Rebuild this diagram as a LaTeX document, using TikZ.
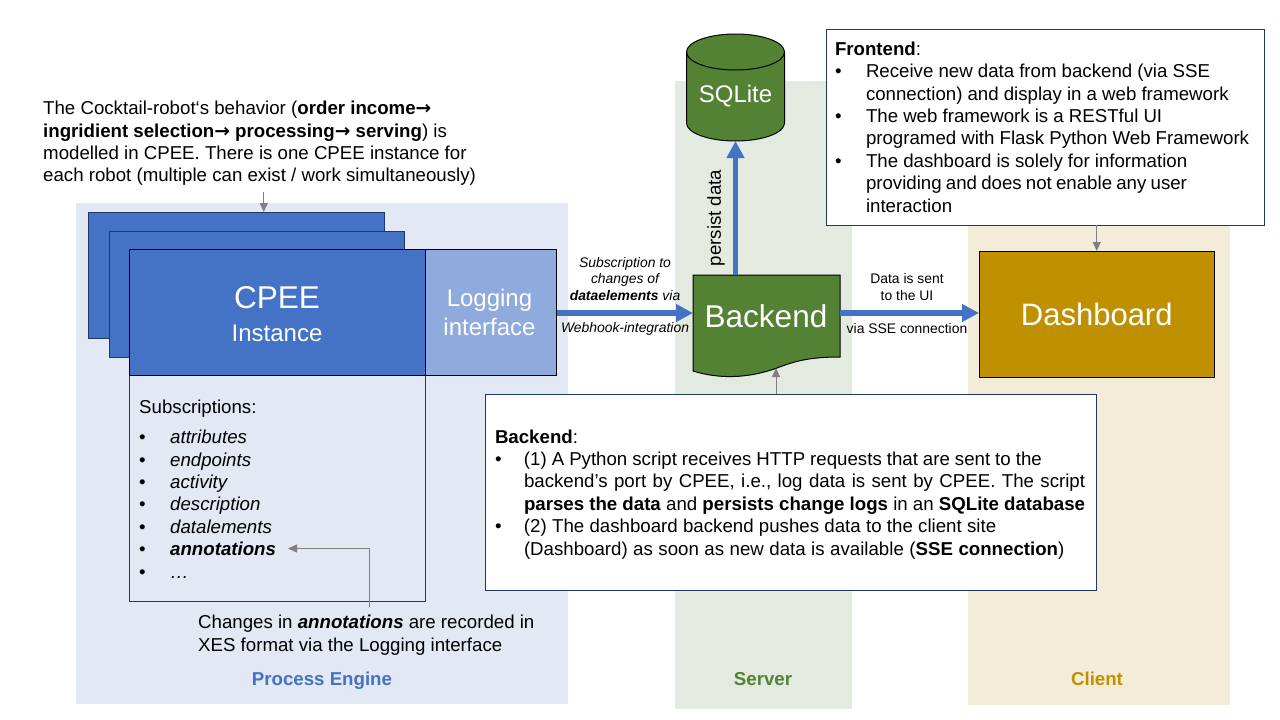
\documentclass[tikz,border=0pt]{standalone}
\usepackage{fontspec}
\setmainfont{Liberation Sans}
\newfontfamily\arrowfont{DejaVu Sans}
\usetikzlibrary{arrows.meta}
\definecolor{navy}{HTML}{1F3864}
\definecolor{blueA}{HTML}{4472C4}
\definecolor{blueB}{HTML}{8FAADC}
\definecolor{greenA}{HTML}{548235}
\definecolor{goldA}{HTML}{BF9000}
\definecolor{bgblue}{HTML}{E2E8F4}
\definecolor{bggreen}{HTML}{E3EBE1}
\definecolor{bggold}{HTML}{F3ECD8}
\definecolor{grayA}{HTML}{7F7F7F}
\newcommand{\bodyfont}{\fontsize{18.67}{22.4}\selectfont}
\newcommand{\smallfont}{\fontsize{13.9}{16.2}\selectfont}
\newcommand{\bul}{\makebox[31pt][l]{•}}
\newcommand{\ind}{\hspace*{31pt}}
\newcommand{\arr}{{\arrowfont\bfseries→}}
\newcommand{\sk}[1]{\spaceskip=#1pt\relax}
\tikzset{
  bgpanel/.style={anchor=north west,inner sep=0pt,outer sep=0pt,draw=none},
  panellabel/.style={font=\bodyfont\bfseries,inner sep=0pt,anchor=base},
  solid box/.style={draw=navy,line width=1pt,inner sep=0pt,outer sep=0pt,anchor=north west,text=white},
  black box/.style={draw=black,line width=1pt,inner sep=0pt,outer sep=0pt,anchor=north west,text=white},
  note/.style={font=\bodyfont,align=left,inner sep=0pt,anchor=north west},
  note box/.style={draw=navy,line width=1pt,fill=white,font=\bodyfont,align=left,inner xsep=9pt,inner ysep=0pt,outer sep=0pt,anchor=north west},
  small label/.style={font=\smallfont,align=center,inner sep=0pt},
  flow/.style={draw=blueA,line width=5.5pt,-{Triangle[width=17pt,length=17pt]}},
  pointer/.style={draw=grayA,line width=1pt,-{Triangle[width=8pt,length=9pt]}},
  capcurve/.style={x radius=49pt,y radius=18pt},
}
\begin{document}
\begin{tikzpicture}[x=1pt,y=-1pt]
\useasboundingbox[fill=white] (0,0) rectangle (1280,720);
% background panels
\node[bgpanel,fill=bgblue,minimum width=492pt,minimum height=501pt] (pe) at (76,203) {};
\node[bgpanel,fill=bggreen,minimum width=177pt,minimum height=628pt] (srv) at (675,81) {};
\node[bgpanel,fill=bggold,minimum width=262pt,minimum height=480pt] (cli) at (968,225) {};
\node[panellabel,text=blueA] (pelabel) at (322,685) {Process Engine};
\node[panellabel,text=greenA] (srvlabel) at (763,685) {Server};
\node[panellabel,text=goldA] (clilabel) at (1097,685) {Client};
% instance stack
\node[solid box,fill=blueA,minimum width=296.5pt,minimum height=126pt] (stackA) at (88,212) {};
\node[solid box,fill=blueA,minimum width=295.5pt,minimum height=126pt] (stackB) at (109,231) {};
\node[solid box,draw=navy,minimum width=296.5pt,minimum height=226pt] (subs) at (129,375) {};
\node[solid box,draw=black,fill=blueA,minimum width=296.5pt,minimum height=126pt] (cpee) at (129,249) {};
\node[inner sep=0pt,text=white,font=\fontsize{31.5}{38}\selectfont] (cpeetitle) at (277,298) {CPEE};
\node[inner sep=0pt,text=white,font=\fontsize{24}{29}\selectfont] (cpeesub) at (277,333) {Instance};
\node[solid box,draw=black,fill=blueB,minimum width=131pt,minimum height=126pt,align=center,font=\fontsize{24}{29}\selectfont] (logging) at (425.5,249)
  {Logging\hspace*{3pt}\\interface\hspace*{3pt}};
\node[note] (subslist) at (139,400) {Subscriptions:\\[7.6pt]
  \bul\textit{attributes}\\
  \bul\textit{endpoints}\\
  \bul\textit{activity}\\
  \bul\textit{description}\\
  \bul\textit{datalements}\\
  \bul\textbf{\textit{annotations}}\\
  \bul\textit{…}};
% top note
\node[note] (topnote) at (43,101) {The Cocktail-robot‘s behavior (\textbf{order income}\arr\\
  \textbf{ingridient selection}\arr\textbf{ processing}\arr\textbf{ serving}) is\\
  modelled in CPEE. There is one CPEE instance for\\
  each robot (multiple can exist / work simultaneously)};
\node[note] (annnote) at (198,615) {Changes in \textbf{\textit{annotations}} are recorded in\\XES format via the Logging interface};
% server
\draw[draw=black,line width=1pt,fill=greenA] (686.5,52) -- (686.5,123)
  arc[start angle=180,end angle=360,capcurve] -- (784.5,52)
  arc[start angle=0,end angle=180,capcurve] -- cycle;
\draw[draw=black,line width=1pt] (686.5,52) arc[start angle=180,end angle=360,capcurve];
\node[inner sep=0pt,outer sep=0pt,minimum width=98pt,minimum height=107pt] (sqlite) at (735.5,87.5) {};
\node[inner sep=0pt,text=white,font=\fontsize{24}{29}\selectfont] (sqlitetext) at (735.5,96) {SQLite};
\draw[draw=black,line width=1pt,fill=greenA] (693,275) -- (840,275) -- (840,357)
  .. controls (810,357) and (795,361) .. (777,368)
  .. controls (755,376) and (725,381) .. (693,371) -- cycle;
\node[inner sep=0pt,outer sep=0pt,minimum width=147pt,minimum height=76pt,anchor=north west] (backend) at (693,275) {};
\node[inner sep=0pt,text=white,font=\fontsize{31.5}{38}\selectfont] (backendtext) at (766,316) {Backend};
\coordinate (backendwave) at (776,368);
% client
\node[black box,fill=goldA,minimum width=235.5pt,minimum height=126pt,font=\fontsize{31}{38}\selectfont] (dash) at (979,251) {Dashboard};
% note boxes
\node[note box,text width=420.5pt,minimum height=196pt] (front) at (826,29) {\sk{5.1}\textbf{Frontend}:\\
  \bul Receive new data from backend (via SSE\\
  \ind connection) and display in a web framework\\
  \bul The web framework is a RESTful UI\\
  \ind programed with Flask Python Web Framework\\
  \bul The dashboard is solely for information\\
  \sk{4.2}\ind providing and does not enable any user\\
  \ind interaction};
\node[note box,inner xsep=10pt,text width=591.5pt,minimum height=196pt] (backnote) at (485,394) {\rule{0pt}{18.2pt}\textbf{Backend}:\\
  \sk{5.0}\makebox[29pt][l]{•}(1) A Python script receives HTTP requests that are sent to the\\
  \sk{6.4}\hspace*{29pt}backend’s port by CPEE, i.e., log data is sent by CPEE. The script\\
  \sk{5.15}\hspace*{29pt}\mbox{\textbf{parses the data} and \textbf{persists change logs} in an \textbf{SQLite database}}\\
  \sk{5.3}\makebox[29pt][l]{•}(2) The dashboard backend pushes data to the client site\\
  \sk{5.5}\hspace*{29pt}(Dashboard) as soon as new data is available (\textbf{SSE connection})};
% flows
\draw[flow] (backend.west -| logging.east) -- (backend.west);
\draw[flow] (backend.east) -- (backend.east -| dash.west);
\draw[flow] (backend.north -| sqlite.south) -- (sqlite.south);
% flow labels
\node[small label,font=\smallfont\itshape] (sublabel) at (625,279) {Subscription to\\changes of\\\textbf{dataelements} via};
\node[small label,font=\smallfont\itshape] (webhook) at (625,329) {Webhook-integration};
\node[small label] (datalabel) at (907,287) {Data is sent\\to the UI};
\node[small label] (sselabel) at (907,329) {via SSE connection};
\node[font=\bodyfont,inner sep=0pt,rotate=90] (persist) at (716,218) {persist data};
% pointers
\draw[pointer] ([shift={(27.5,-20)}]stackA.north) -- ([xshift=27.5pt]stackA.north);
\draw[pointer] (backnote.north -| backendwave) -- (backendwave);
\draw[pointer] (front.south -| dash.north) -- (dash.north);
\coordinate (annslot) at (288,548.5);
\coordinate (annstart) at (369,607);
\draw[pointer] (annstart) |- (annslot);
\end{tikzpicture}
\end{document}
